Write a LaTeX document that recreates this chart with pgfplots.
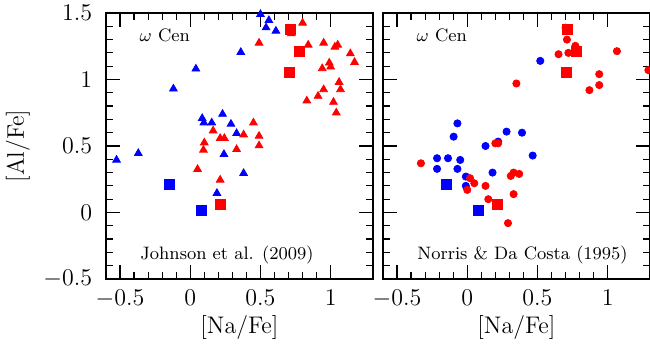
\documentclass[border=0pt]{standalone}
\usepackage{pgfplots}
\pgfplotsset{compat=1.18}
\begin{document}
\begin{tikzpicture}
\useasboundingbox (0,0) rectangle (325pt,173.5pt);
\pgfplotsset{panel/.style={
  scale only axis, width=133.4pt, height=133pt,
  xmin=-0.6, xmax=1.3, ymin=-0.5, ymax=1.5,
  xtick={-0.5,0,0.5,1}, ytick={-0.5,0,0.5,1,1.5},
  minor x tick num=4, minor y tick num=4,
  tick align=inside, major tick length=7pt, minor tick length=3.5pt,
  axis line style={line width=1pt},
  every tick/.style={black, line width=0.6pt},
  tick label style={font=\fontsize{11.5}{13}\selectfont},
  label style={font=\fontsize{12}{14}\selectfont},
  xlabel={[Na/Fe]},
  xlabel style={at={(axis description cs:0.5,-0.184)},anchor=center},
  xticklabel shift=2pt, yticklabel shift=3.4pt,
  anchor=south west,
},
btri/.style={only marks, mark=triangle*, mark size=2.2pt, color=blue},
rtri/.style={only marks, mark=triangle*, mark size=2.2pt, color=red},
bcirc/.style={only marks, mark=*, mark size=1.8pt, color=blue},
rcirc/.style={only marks, mark=*, mark size=1.8pt, color=red},
bsq/.style={only marks, mark=square*, mark size=2.5pt, color=blue},
rsq/.style={only marks, mark=square*, mark size=2.5pt, color=red},
}
% ---------------- left panel ----------------
\begin{axis}[panel, at={(53pt,34pt)},
  ylabel={[Al/Fe]},
  ylabel style={at={(axis description cs:-0.33,0.5)},anchor=center}]
\addplot[btri] coordinates {
(0.50,1.49) (0.56,1.445) (0.54,1.39) (0.61,1.365) (0.36,1.205) (0.04,1.08)
(-0.12,0.93) (0.085,0.708) (0.097,0.675) (0.23,0.74) (0.153,0.675) (0.29,0.665)
(0.33,0.595) (0.24,0.438) (0.38,0.295) (0.19,0.145) (-0.37,0.445) (-0.525,0.395)
};
\addplot[rtri] coordinates {
(0.49,1.275) (0.80,1.425) (0.72,1.345) (0.84,1.26) (0.95,1.275) (1.03,1.245)
(1.05,1.26) (1.14,1.195) (1.17,1.13) (0.99,1.125) (0.94,1.083) (1.00,1.095)
(1.06,0.98) (1.07,0.925) (0.95,0.925) (0.91,0.875) (0.83,0.84) (1.02,0.83)
(1.04,0.75) (0.45,0.675) (0.163,0.615) (0.213,0.558) (0.243,0.558) (0.38,0.585)
(0.49,0.575) (0.49,0.503) (0.10,0.525) (0.094,0.47) (0.33,0.475) (0.052,0.325)
(0.213,0.245)
};
\addplot[bsq] coordinates {(-0.15,0.21) (0.08,0.015)};
\addplot[rsq] coordinates {(0.215,0.06) (0.71,1.376) (0.775,1.21) (0.705,1.05)};
\node[anchor=west, font=\fontsize{9}{11}\selectfont] at (axis cs:-0.41,1.333) {$\omega$\ Cen};
\node[anchor=west, font=\fontsize{9}{11}\selectfont] at (axis cs:-0.405,-0.317) {Johnson et al. (2009)};
\end{axis}
% ---------------- right panel ----------------
\begin{axis}[panel, at={(191.5pt,34pt)}, yticklabels={}]
\addplot[bcirc] coordinates {
(0.52,1.14) (-0.07,0.67) (-0.097,0.57) (0.28,0.608) (0.39,0.60) (0.22,0.533)
(0.13,0.50) (-0.215,0.408) (-0.137,0.408) (-0.05,0.395) (-0.215,0.328)
(-0.07,0.328) (-0.01,0.27) (-0.01,0.20) (0.18,0.30) (0.466,0.428)
};
\addplot[rcirc] coordinates {
(0.70,1.39) (0.71,1.30) (0.77,1.253) (0.72,1.20) (0.65,1.19) (1.066,1.213)
(0.94,1.04) (0.35,0.97) (0.94,0.958) (0.87,0.92) (1.29,1.07) (-0.33,0.37)
(0.20,0.52) (0.22,0.52) (0.02,0.258) (0.05,0.22) (0.00,0.17) (0.13,0.20)
(0.15,0.10) (0.31,0.275) (0.33,0.30) (0.37,0.29) (0.33,0.138) (0.29,-0.08)
};
\addplot[bsq] coordinates {(-0.15,0.21) (0.08,0.015)};
\addplot[rsq] coordinates {(0.215,0.06) (0.71,1.376) (0.775,1.21) (0.705,1.05)};
\node[anchor=west, font=\fontsize{9}{11}\selectfont] at (axis cs:-0.41,1.333) {$\omega$\ Cen};
\node[anchor=west, font=\fontsize{9}{11}\selectfont] at (axis cs:-0.405,-0.317) {Norris \& Da Costa (1995)};
\end{axis}
\end{tikzpicture}
\end{document}
